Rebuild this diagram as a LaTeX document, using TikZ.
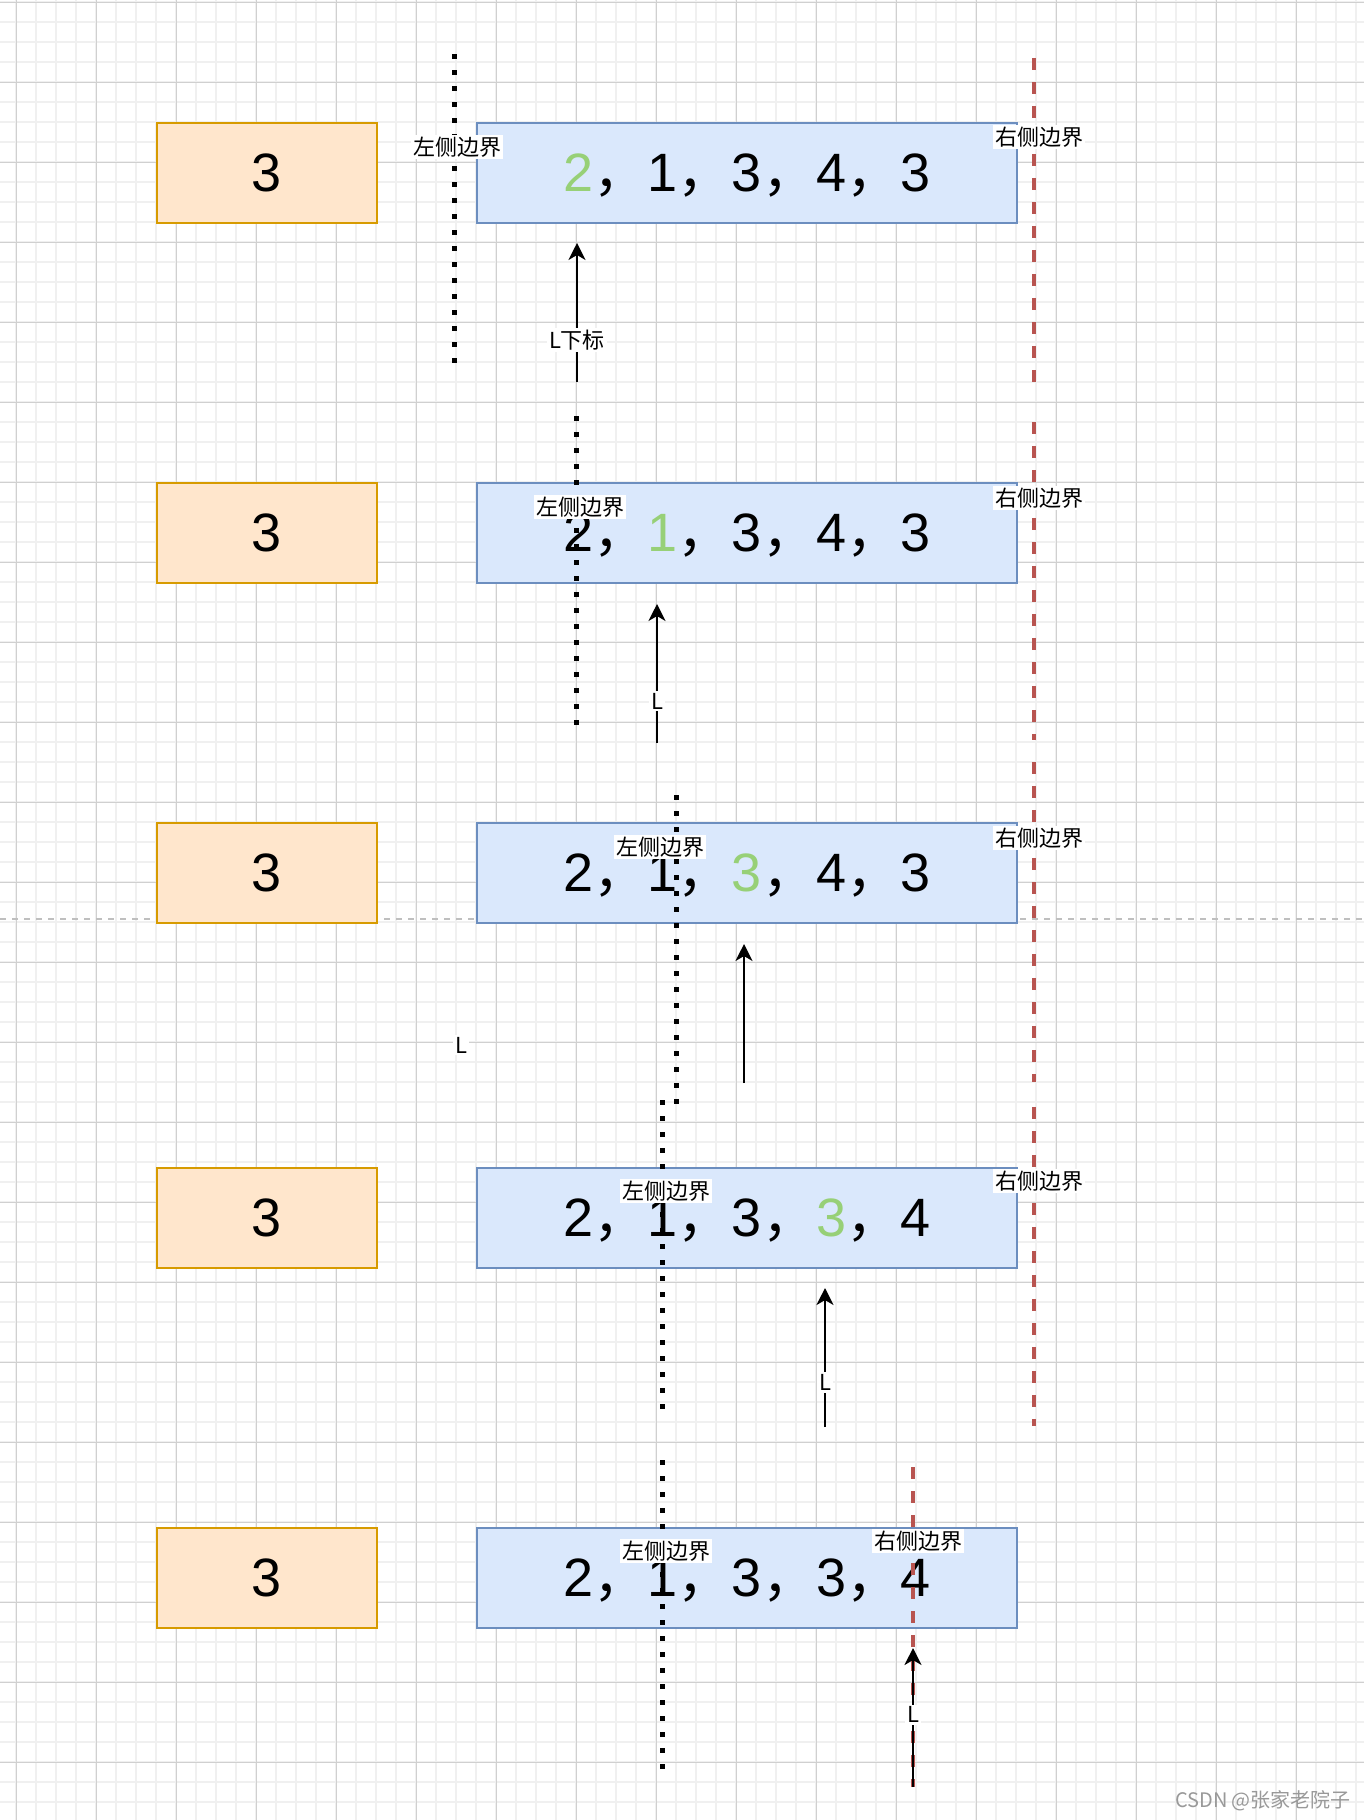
\documentclass[tikz,border=0pt]{standalone}
\usepackage{fontspec}
\setmainfont{Liberation Sans}
\newfontfamily\cjkfont{Noto Sans CJK SC}
\usepackage{xcolor}
\usetikzlibrary{arrows.meta}
\definecolor{gridmajor}{HTML}{D0D0D0}
\definecolor{gridminor}{HTML}{F0F0F0}
\definecolor{orangefill}{HTML}{FFE6CC}
\definecolor{orangeline}{HTML}{D79B00}
\definecolor{bluefill}{HTML}{DAE8FC}
\definecolor{blueline}{HTML}{6C8EBF}
\definecolor{redline}{HTML}{B85450}
\definecolor{numgreen}{HTML}{97D077}
\newcommand{\hl}[1]{\textcolor{numgreen}{#1}}
\newcommand{\fwcomma}{{\cjkfont ，}}
\tikzset{
  numcell/.style={draw, line width=1pt, minimum height=50pt, inner sep=0pt, text height=18pt, text depth=0pt, font=\fontsize{27}{30}\selectfont},
  keycell/.style={numcell, fill=orangefill, draw=orangeline, minimum width=110pt},
  seqcell/.style={numcell, fill=bluefill, draw=blueline, minimum width=270pt},
  leftbound/.style={line width=2.5pt, dash pattern=on 2.5pt off 5.5pt},
  rightbound/.style={redline, line width=2pt, dash pattern=on 6pt off 6pt},
  ptr/.style={-{Stealth[length=8.5pt, width=8.5pt, inset=2.5pt]}, line width=1pt},
  tag/.style={fill=white, inner sep=1pt, font=\cjkfont\fontsize{11}{13}\selectfont},
}

\begin{document}
\begin{tikzpicture}[x=0.5pt, y=-0.5pt]
\useasboundingbox (0,0) rectangle (1364,1820);
\fill[white] (0,0) rectangle (1364,1820);
\foreach \x in {16,36,...,1356} {\draw[gridminor, line width=0.7pt] (\x,0) -- (\x,1820);}
\foreach \y in {2,22,...,1802} {\draw[gridminor, line width=0.7pt] (0,\y) -- (1364,\y);}
\foreach \x in {16,96,...,1296} {\draw[gridmajor, line width=0.5pt] (\x,0) -- (\x,1820);}
\foreach \y in {2,82,...,1762} {\draw[gridmajor, line width=0.5pt] (0,\y) -- (1364,\y);}
\draw[black!25, line width=0.7pt, dash pattern=on 3pt off 3pt] (0,919) -- (1364,919);

\foreach \n/\y/\txt in {1/173/{\hl{2}\fwcomma 1\fwcomma 3\fwcomma 4\fwcomma 3},
                        2/533/{2\fwcomma\hl{1}\fwcomma 3\fwcomma 4\fwcomma 3},
                        3/873/{2\fwcomma 1\fwcomma\hl{3}\fwcomma 4\fwcomma 3},
                        4/1218/{2\fwcomma 1\fwcomma 3\fwcomma\hl{3}\fwcomma 4},
                        5/1578/{2\fwcomma 1\fwcomma 3\fwcomma 3\fwcomma 4}} {
  \node[keycell] (key\n) at (267,\y) {3};
  \node[seqcell] (seq\n) at (747,\y) {\txt};
}

\foreach \n/\x/\ya/\yb in {1/454/54/363, 2/576/416/725, 3/676/795/1104, 4/662/1100/1409, 5/662/1460/1769} {
  \draw[leftbound] (\x,\ya) -- (\x,\yb);
}
\foreach \n/\x/\ya/\yb in {1/1034/58/382, 2/1034/422/740, 3/1034/762/1082, 4/1034/1107/1426, 5/913/1467/1787} {
  \draw[rightbound] (\x,\ya) -- (\x,\yb);
}

\foreach \n/\x/\ya/\yb/\p/\t in {1/577/382/243/0.3/L下标, 2/657/743/604/0.3/L, 4/825/1427/1288/0.32/L, 5/913/1787/1648/0.52/L} {
  \coordinate (from\n) at (\x,\ya);
  \coordinate (to\n) at (\x,\yb);
  \draw[ptr] (from\n) -- node[tag, pos=\p] (ptrlabel\n) {\t} (to\n);
}
\coordinate (from3) at (744,1083);
\coordinate (to3) at (744,944);
\draw[ptr] (from3) -- (to3);
\node[tag] (ptrlabel3) at (461,1045) {L};

\foreach \n/\x/\y in {1/457/147, 2/580/507, 3/660/847, 4/666/1191, 5/666/1551} {
  \node[tag] (leftlabel\n) at (\x,\y) {左侧边界};
}
\foreach \n/\x/\y in {1/1039/137, 2/1039/498, 3/1039/838, 4/1039/1181, 5/918/1541} {
  \node[tag] (rightlabel\n) at (\x,\y) {右侧边界};
}

\node[font=\cjkfont\fontsize{10}{12}\selectfont, text=black!40] (mark) at (1263,1801) {CSDN @张家老院子};
\end{tikzpicture}
\end{document}
